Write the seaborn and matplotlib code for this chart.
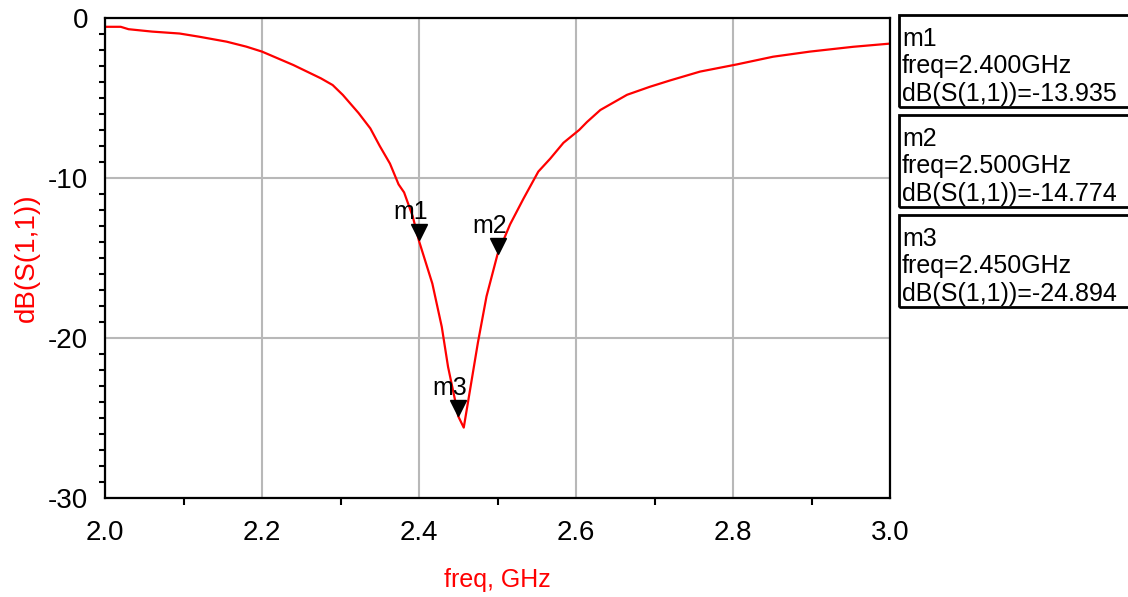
import numpy as np
import pandas as pd
import seaborn as sns
import matplotlib.pyplot as plt
from matplotlib.patches import Rectangle
from matplotlib.transforms import offset_copy

# S11 sweep
freq_ghz = [2.000, 2.020, 2.030, 2.060, 2.095, 2.120, 2.155, 2.180, 2.200, 2.240,
            2.275, 2.290, 2.303, 2.323, 2.338, 2.350, 2.363, 2.374, 2.381, 2.392,
            2.400, 2.417, 2.429, 2.437, 2.446, 2.450, 2.457, 2.465, 2.475, 2.486,
            2.500, 2.516, 2.533, 2.552, 2.567, 2.584, 2.604, 2.614, 2.631, 2.665,
            2.694, 2.720, 2.758, 2.805, 2.851, 2.898, 2.953, 3.000]
s11_db = [-0.55, -0.55, -0.70, -0.85, -0.97, -1.17, -1.48, -1.79, -2.10, -2.94,
          -3.77, -4.19, -4.81, -5.94, -6.90, -8.00, -9.10, -10.40, -10.90, -12.40,
          -13.935, -16.60, -19.30, -21.80, -23.90, -24.894, -25.60, -23.25, -20.30, -17.40,
          -14.774, -12.90, -11.30, -9.60, -8.80, -7.80, -7.00, -6.50, -5.75, -4.80,
          -4.30, -3.90, -3.35, -2.90, -2.42, -2.10, -1.80, -1.60]

# markers
marker_names = ['m1', 'm2', 'm3']
marker_freq = [2.400, 2.500, 2.450]
marker_val = [-13.935, -14.774, -24.894]

x_ticks = [2.0, 2.2, 2.4, 2.6, 2.8, 3.0]
y_ticks = [-30, -20, -10, 0]

df = pd.DataFrame({'freq': freq_ghz, 'db': s11_db})

sns.set_style('white')
plt.rcParams['font.family'] = ['Liberation Sans', 'DejaVu Sans']
plt.rcParams['axes.unicode_minus'] = False
narrow = ['Liberation Sans Narrow', 'Liberation Sans', 'DejaVu Sans']

fig = plt.figure(figsize=(11.28, 5.97), dpi=100)
ax = fig.add_axes([105 / 1128, 1 - 498 / 597, 785 / 1128, 480 / 597])

sns.lineplot(data=df, x='freq', y='db', color='red', linewidth=1.6, ax=ax, sort=False)

ax.set_xlim(2.0, 3.0)
ax.set_ylim(-30, 0)
ax.set_xticks(x_ticks)
ax.set_xticklabels([f'{v:.1f}' for v in x_ticks], fontsize=20, family=narrow)
ax.set_xticks(np.arange(2.1, 3.0, 0.2), minor=True)
ax.set_yticks(y_ticks)
ax.set_yticklabels([str(v) for v in y_ticks], fontsize=20, family=narrow)
ax.set_yticks(np.arange(-29, 0, 1), minor=True)
ax.grid(True, which='major', color='#b8b8b8', linewidth=1.5)
ax.set_axisbelow(True)

for sp in ax.spines.values():
    sp.set_color('black')
    sp.set_linewidth(1.6)
ax.tick_params(axis='both', which='both', direction='out', color='black', width=1.5,
               labelcolor='black')
ax.tick_params(axis='x', which='major', length=10, pad=6)
ax.tick_params(axis='x', which='minor', length=5, bottom=True)
ax.tick_params(axis='y', which='major', length=8, pad=4)
ax.tick_params(axis='y', which='minor', length=4, left=True)

ax.set_xlabel('freq, GHz', color='red', fontsize=18, labelpad=16)
ax.set_ylabel('dB(S(1,1))', color='red', fontsize=20, labelpad=6)

# marker triangles sitting on the curve
tri_tr = offset_copy(ax.transData, fig=fig, x=0, y=8.5, units='dots')
for name, f, v in zip(marker_names, marker_freq, marker_val):
    ax.plot([f], [v], marker='v', markersize=12, color='black', transform=tri_tr,
            linestyle='none', zorder=5)
    ax.annotate(name, xy=(f, v), xytext=(-6, 12), textcoords='offset points',
                ha='center', va='bottom', fontsize=18, color='black', zorder=6)

# marker readout boxes on the right
box_tops = [15, 115, 215]
for i, (name, f, v) in enumerate(zip(marker_names, marker_freq, marker_val)):
    top = box_tops[i]
    fig.patches.append(Rectangle((899 / 1128, 1 - (top + 92) / 597), 240 / 1128, 92 / 597,
                                 transform=fig.transFigure, fill=False,
                                 edgecolor='black', linewidth=2, clip_on=False))
    lines = [name, f'freq={f:.3f}GHz', f'dB(S(1,1))={v:.3f}']
    for j, txt in enumerate(lines):
        fig.text(902 / 1128, 1 - (top + 24 + 27.5 * j) / 597, txt, fontsize=18,
                 color='black', ha='left', va='center')

fig.savefig('out.png', dpi=100)
